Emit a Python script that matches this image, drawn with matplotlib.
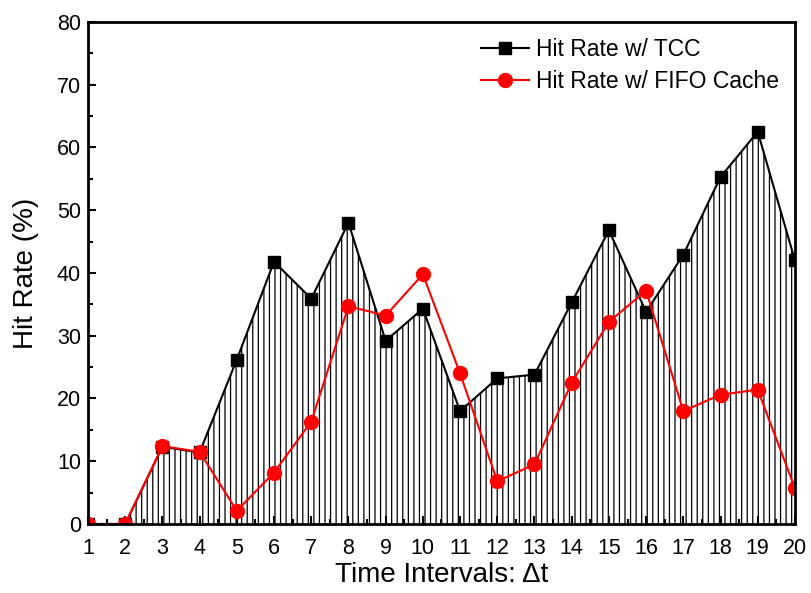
import numpy as np
import matplotlib.pyplot as plt
from matplotlib.ticker import MultipleLocator

plt.rcParams['font.family'] = ['Liberation Sans', 'DejaVu Sans']
plt.rcParams['hatch.linewidth'] = 0.9

# data
intervals = np.arange(1, 21)
tcc = [0, 0, 12.3, 11.4, 26.2, 41.8, 35.9, 48.0, 29.2, 34.3,
       18.0, 23.2, 23.8, 35.3, 46.8, 33.8, 42.9, 55.3, 62.5, 42.0]
fifo = [0, 0, 12.4, 11.5, 2.1, 8.2, 16.3, 34.7, 33.2, 39.8,
        24.0, 6.8, 9.5, 22.5, 32.2, 37.2, 18.0, 20.6, 21.4, 5.7]

fig = plt.figure(figsize=(8.11, 5.93), dpi=100)
ax = fig.add_axes([0.1085, 0.1164, 0.8717, 0.8466])

# hatched area under the TCC curve
ax.fill_between(intervals, tcc, 0, facecolor='none', edgecolor='black',
                hatch='|||', linewidth=0)

ax.plot(intervals, tcc, color='black', marker='s', markersize=8,
        linewidth=1.5, label='Hit Rate w/ TCC')
ax.plot(intervals, fifo, color='red', marker='o', markersize=10,
        linewidth=1.5, label='Hit Rate w/ FIFO Cache')

ax.set_xlim(1, 20)
ax.set_ylim(0, 80)
ax.xaxis.set_major_locator(MultipleLocator(1))
ax.xaxis.set_minor_locator(MultipleLocator(0.5))
ax.yaxis.set_major_locator(MultipleLocator(10))
ax.yaxis.set_minor_locator(MultipleLocator(5))
ax.tick_params(which='both', direction='in', labelsize=15.5, width=1.5)
ax.tick_params(which='major', length=6)
ax.tick_params(which='minor', length=3.5)
ax.tick_params(axis='x', which='major', pad=10)
ax.tick_params(axis='y', which='major', pad=5)
for s in ax.spines.values():
    s.set_linewidth(2)

ax.set_xlabel('Time Intervals: Δt', fontsize=20, labelpad=2)
ax.set_ylabel('Hit Rate (%)', fontsize=20, labelpad=13)

ax.legend(loc='upper right', frameon=False, fontsize=16.5,
          handlelength=2.1, handletextpad=0.3, borderaxespad=0.3,
          labelspacing=0.4)

fig.savefig('out.png', dpi=100)
